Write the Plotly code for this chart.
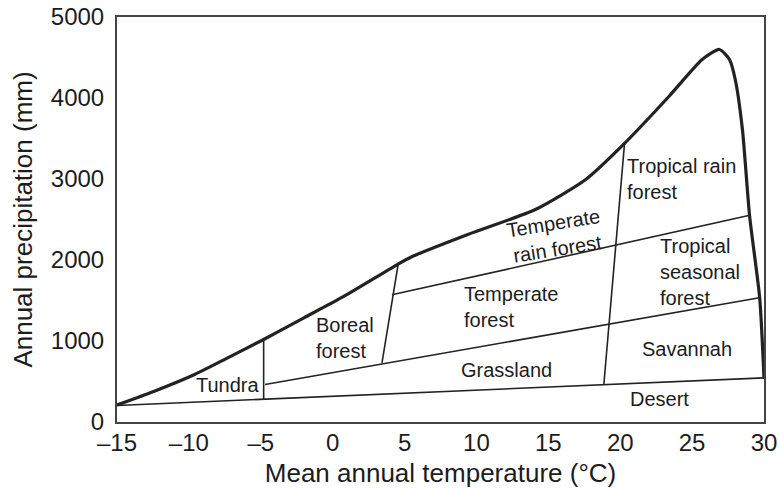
import plotly.graph_objects as go

# Outer climate envelope (mean annual temperature °C, annual precipitation mm)
curve_t = [-15, -12.4, -9.6, -7.3, -4.8, -2.0, 0.8, 4.5, 5.5, 9.4, 14.1, 17.6, 20.3,
           23.4, 25.7, 26.9, 27.6, 28.0, 28.5, 29.0, 29.7, 30]
curve_p = [210, 380, 586, 792, 1019, 1286, 1553, 1944, 2040, 2315, 2623, 2994, 3440,
           4022, 4475, 4599, 4475, 4228, 3611, 2541, 1533, 545]

# Biome boundary lines
desert_t = [-15, 30]
desert_p = [204, 545]
tundra_t = [-4.8, -4.8]
tundra_p = [280, 1019]
grass_t = [-4.7, 29.68]
grass_p = [463, 1533]
boreal_t = [3.43, 4.55]
boreal_p = [731, 1944]
rain_t = [4.12, 29.09]
rain_p = [1570, 2555]
tropic_t = [18.86, 20.3]
tropic_p = [460, 3440]

# Biome labels
label_text = ["Tundra", "Boreal<br>forest", "Temperate<br>forest", "Grassland",
              "Tropical rain<br>forest", "Tropical<br>seasonal<br>forest", "Savannah", "Desert"]
label_t = [-7.3, -1.28, 8.99, 12.12, 20.35, 22.66, 24.64, 22.71]
label_p = [463, 1043, 1414, 642, 2997, 1858, 907, 286]
label_align = ["center", "left", "left", "center", "left", "left", "center", "center"]

rot_text = "Temperate<br>rain forest"
rot_t = 15.5
rot_p = 2302

x_ticks = [-15, -10, -5, 0, 5, 10, 15, 20, 25, 30]
x_ticktext = ["–15", "–10", "–5", "0", "5", "10", "15", "20", "25", "30"]
y_ticks = [0, 1000, 2000, 3000, 4000, 5000]

FONT = "Liberation Sans, Arial, Helvetica, sans-serif"
INK = "#1c1c1c"

fig = go.Figure()
fig.add_trace(go.Scatter(x=curve_t, y=curve_p, mode="lines",
                         line=dict(color="#222222", width=3.2, shape="spline", smoothing=0.6),
                         hoverinfo="skip", showlegend=False))
for tt, pp in [(desert_t, desert_p), (tundra_t, tundra_p), (grass_t, grass_p),
               (boreal_t, boreal_p), (rain_t, rain_p), (tropic_t, tropic_p)]:
    fig.add_trace(go.Scatter(x=tt, y=pp, mode="lines",
                             line=dict(color="#222222", width=1.6),
                             hoverinfo="skip", showlegend=False))

for txt, tx, py, al in zip(label_text, label_t, label_p, label_align):
    xa = "left" if al == "left" else "center"
    fig.add_annotation(x=tx, y=py, text=txt, showarrow=False, xanchor=xa, yanchor="middle",
                       align=al, font=dict(family=FONT, size=20, color=INK))
fig.add_annotation(x=rot_t, y=rot_p, text=rot_text, showarrow=False, textangle=-9,
                   align="center", font=dict(family=FONT, size=20, color=INK))

axis_common = dict(showgrid=False, zeroline=False, showline=True, mirror=True,
                   linecolor="#444444", linewidth=2, ticks="",
                   tickfont=dict(family=FONT, size=24, color=INK))
fig.update_xaxes(range=[-15, 30], tickvals=x_ticks, ticktext=x_ticktext,
                 ticklabelstandoff=-2,
                 title=dict(text="Mean annual temperature (°C)", standoff=12,
                            font=dict(family=FONT, size=26, color=INK)),
                 **axis_common)
fig.update_yaxes(range=[0, 5000], tickvals=y_ticks, ticklabelstandoff=6,
                 title=dict(text="Annual precipitation (mm)", standoff=11,
                            font=dict(family=FONT, size=26, color=INK)),
                 **axis_common)
fig.update_layout(width=779, height=488, margin=dict(l=117, r=15, t=17, b=66, autoexpand=False),
                  plot_bgcolor="white", paper_bgcolor="white")
fig.write_html("out.html", config={"displayModeBar": False},
               post_script="document.body.style.margin='0';")
